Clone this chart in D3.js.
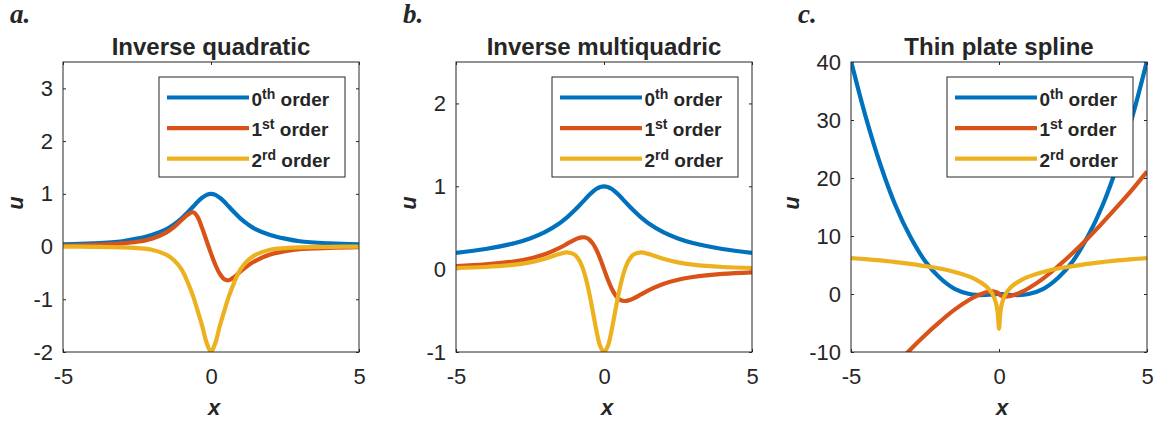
<!DOCTYPE html>
<html>
<head>
<meta charset="utf-8">
<script src="https://cdn.jsdelivr.net/npm/d3@7"></script>
<style>
body { margin: 0; background: #fff; }
svg text { font-family: "Liberation Sans", Arial, Helvetica, sans-serif; fill: #262626; }
</style>
</head>
<body>
<svg width="1156" height="426"></svg>
<script>
// ---- data ----
var panelLetters = ["a.", "b.", "c."];
var panelTitles = ["Inverse quadratic", "Inverse multiquadric", "Thin plate spline"];
var orderNums = ["0", "1", "2"];
var orderSups = ["th", "st", "rd"];
var xTicks = [-5, 0, 5];

var quadYTicks = [-2, -1, 0, 1, 2, 3];
var quadYDomain = [-2, 3.5];
var quadX = [-5, -4, -3, -2.5, -2, -1.5, -1.25, -1, -0.8, -0.6, -0.45, -0.3, -0.15, 0, 0.15, 0.3, 0.45, 0.6, 0.8, 1, 1.25, 1.5, 2, 2.5, 3, 4, 5];
var quadU0 = [0.04, 0.06, 0.1, 0.15, 0.22, 0.33, 0.42, 0.53, 0.64, 0.76, 0.85, 0.925, 0.98, 1, 0.98, 0.925, 0.85, 0.76, 0.64, 0.53, 0.42, 0.33, 0.22, 0.15, 0.1, 0.06, 0.04];
var quadU1 = [0.015, 0.03, 0.06, 0.09, 0.15, 0.27, 0.37, 0.5, 0.6, 0.65, 0.56, 0.35, 0.11, -0.13, -0.35, -0.52, -0.62, -0.64, -0.57, -0.47, -0.36, -0.27, -0.15, -0.09, -0.05, -0.025, -0.012];
var quadU2 = [0, -0.005, -0.015, -0.03, -0.06, -0.16, -0.26, -0.43, -0.66, -0.95, -1.22, -1.5, -1.82, -2, -1.82, -1.5, -1.22, -0.95, -0.66, -0.43, -0.26, -0.16, -0.06, -0.03, -0.015, -0.005, 0];

var multiYTicks = [-1, 0, 1, 2];
var multiYDomain = [-1, 2.5];
var multiX = [-5, -4, -3, -2.5, -2, -1.5, -1.25, -1, -0.875, -0.75, -0.625, -0.5, -0.375, -0.25, -0.125, 0, 0.125, 0.25, 0.375, 0.5, 0.625, 0.75, 0.875, 1, 1.25, 1.5, 2, 2.5, 3, 4, 5];
var multiU0 = [0.196, 0.243, 0.316, 0.371, 0.447, 0.555, 0.625, 0.707, 0.753, 0.8, 0.848, 0.894, 0.936, 0.97, 0.992, 1, 0.992, 0.97, 0.936, 0.894, 0.848, 0.8, 0.753, 0.707, 0.625, 0.555, 0.447, 0.371, 0.316, 0.243, 0.196];
var multiU1 = [0.038, 0.057, 0.095, 0.128, 0.179, 0.256, 0.305, 0.354, 0.373, 0.384, 0.381, 0.358, 0.308, 0.228, 0.122, 0, -0.122, -0.228, -0.308, -0.358, -0.381, -0.384, -0.373, -0.354, -0.305, -0.256, -0.179, -0.128, -0.095, -0.057, -0.038];
var multiU2 = [0.014, 0.026, 0.054, 0.081, 0.125, 0.184, 0.202, 0.177, 0.128, 0.041, -0.096, -0.286, -0.517, -0.752, -0.932, -1, -0.932, -0.752, -0.517, -0.286, -0.096, 0.041, 0.128, 0.177, 0.202, 0.184, 0.125, 0.081, 0.054, 0.026, 0.014];

var tpsYTicks = [-10, 0, 10, 20, 30, 40];
var tpsYDomain = [-10, 40];
var tpsX = [-5, -4.5, -4, -3.5, -3, -2.5, -2, -1.5, -1, -0.75, -0.5, -0.35, -0.22, -0.1, -0.04, -0.015, 0, 0.015, 0.04, 0.1, 0.22, 0.35, 0.5, 0.75, 1, 1.5, 2, 2.5, 3, 3.5, 4, 4.5, 5];
var tpsU0 = [40.2, 30.5, 22.2, 15.3, 9.9, 5.7, 2.8, 0.9, 0, -0.16, -0.17, -0.13, -0.07, -0.02, 0, 0, 0, 0, 0, -0.02, -0.07, -0.13, -0.17, -0.16, 0, 0.9, 2.8, 5.7, 9.9, 15.3, 22.2, 30.5, 40.2];
var tpsU1 = [-21.1, -18.0, -15.1, -12.3, -9.6, -7.1, -4.8, -2.7, -1, -0.32, 0.19, 0.38, 0.45, 0.36, 0.22, 0.11, 0, -0.11, -0.22, -0.36, -0.45, -0.38, -0.19, 0.32, 1, 2.7, 4.8, 7.1, 9.6, 12.3, 15.1, 18.0, 21.1];
var tpsU2 = [6.2, 6.0, 5.8, 5.5, 5.2, 4.8, 4.4, 3.8, 3, 2.4, 1.6, 0.9, 0, -1.6, -3.4, -5.4, -6, -5.4, -3.4, -1.6, 0, 0.9, 1.6, 2.4, 3, 3.8, 4.4, 4.8, 5.2, 5.5, 5.8, 6.0, 6.2];

// ---- layout ----
var colors = ["#0072BD", "#D95319", "#EDB120"];
var panelLefts = [63, 456, 851];
var plotW = 296, plotTop = 62, plotBottom = 352;
var axisColor = "#262626";

var svg = d3.select("svg");

var panels = [
    {yDomain: quadYDomain, yTicks: quadYTicks, x: quadX, u: [quadU0, quadU1, quadU2]},
    {yDomain: multiYDomain, yTicks: multiYTicks, x: multiX, u: [multiU0, multiU1, multiU2]},
    {yDomain: tpsYDomain, yTicks: tpsYTicks, x: tpsX, u: [tpsU0, tpsU1, tpsU2]}
];

panels.forEach(function (p, i) {
    drawPanel(p, i);
});

function plainNum(d) {
    return String(d);
}

function styleAxis(g) {
    g.select(".domain").remove();
    g.selectAll("line").attr("stroke", axisColor);
    g.selectAll("text")
        .attr("font-family", null)
        .attr("font-size", 22)
        .attr("fill", axisColor);
}

function drawPanel(p, i) {
    var left = panelLefts[i];
    var x = d3.scaleLinear().domain([-5, 5]).range([left, left + plotW]);
    var y = d3.scaleLinear().domain(p.yDomain).range([plotBottom, plotTop]);
    var g = svg.append("g").attr("class", "panel");

    g.append("clipPath")
        .attr("id", "clip" + i)
        .append("rect")
        .attr("x", left)
        .attr("y", plotTop)
        .attr("width", plotW)
        .attr("height", plotBottom - plotTop);

    // axes with inward ticks on all four sides
    g.append("g")
        .attr("transform", "translate(0," + plotBottom + ")")
        .call(d3.axisBottom(x).tickValues(xTicks).tickFormat(plainNum).tickSizeInner(-3).tickSizeOuter(0).tickPadding(16))
        .call(styleAxis);
    g.append("g")
        .attr("transform", "translate(0," + plotTop + ")")
        .call(d3.axisTop(x).tickValues(xTicks).tickSizeInner(-3).tickSizeOuter(0).tickFormat(""))
        .call(styleAxis);
    var yAxis = g.append("g")
        .attr("transform", "translate(" + left + ",0)")
        .call(d3.axisLeft(y).tickValues(p.yTicks).tickFormat(plainNum).tickSizeInner(-3).tickSizeOuter(0).tickPadding(10))
        .call(styleAxis);
    g.append("g")
        .attr("transform", "translate(" + (left + plotW) + ",0)")
        .call(d3.axisRight(y).tickValues(p.yTicks).tickSizeInner(-3).tickSizeOuter(0).tickFormat(""))
        .call(styleAxis);

    // curves
    var line = d3.line()
        .x(function (d) { return x(d[0]); })
        .y(function (d) { return y(d[1]); })
        .curve(d3.curveCatmullRom.alpha(0.5));

    g.append("g")
        .attr("clip-path", "url(#clip" + i + ")")
        .selectAll("path")
        .data(p.u)
        .enter().append("path")
        .attr("d", function (vals) {
            return line(vals.map(function (v, k) { return [p.x[k], v]; }));
        })
        .attr("fill", "none")
        .attr("stroke", function (d, k) { return colors[k]; })
        .attr("stroke-width", 4.2)
        .attr("stroke-linejoin", "round");

    // box
    g.append("rect")
        .attr("x", left)
        .attr("y", plotTop)
        .attr("width", plotW)
        .attr("height", plotBottom - plotTop)
        .attr("fill", "none")
        .attr("stroke", axisColor)
        .attr("stroke-width", 1);

    // title
    g.append("text")
        .attr("x", left + plotW / 2)
        .attr("y", plotTop - 7)
        .attr("text-anchor", "middle")
        .attr("font-size", 24)
        .attr("font-weight", "bold")
        .attr("fill", "#000")
        .text(panelTitles[i]);

    // panel letter
    g.append("text")
        .attr("x", left - 53)
        .attr("y", 23)
        .style("font-family", '"Liberation Serif", "Times New Roman", serif')
        .attr("font-size", 27)
        .attr("font-weight", "bold")
        .attr("font-style", "italic")
        .attr("fill", "#000")
        .text(panelLetters[i]);

    // axis labels
    g.append("text")
        .attr("x", left + plotW / 2 + 3)
        .attr("y", 415)
        .attr("text-anchor", "middle")
        .attr("font-size", 22)
        .attr("font-weight", "bold")
        .attr("font-style", "italic")
        .text("x");

    var labelLeft = d3.min(yAxis.selectAll("text").nodes(), function (n) {
        return n.getBBox().x;
    });
    var ux = left + labelLeft - 10;
    g.append("text")
        .attr("transform", "translate(" + ux + "," + ((plotTop + plotBottom) / 2 - 4) + ") rotate(-90)")
        .attr("text-anchor", "middle")
        .attr("font-size", 22)
        .attr("font-weight", "bold")
        .attr("font-style", "italic")
        .text("u");

    // legend
    var legW = 186, legH = 100;
    var leg = g.append("g")
        .attr("transform", "translate(" + (left + plotW - 14 - legW) + "," + (plotTop + 15) + ")");
    leg.append("rect")
        .attr("width", legW)
        .attr("height", legH)
        .attr("fill", "#fff")
        .attr("stroke", axisColor)
        .attr("stroke-width", 1);
    var rows = leg.selectAll("g.row")
        .data(orderNums)
        .enter().append("g")
        .attr("class", "row")
        .attr("transform", function (d, k) { return "translate(0," + (20.5 + k * 30.6) + ")"; });
    rows.append("line")
        .attr("x1", 8)
        .attr("x2", 90)
        .attr("stroke", function (d, k) { return colors[k]; })
        .attr("stroke-width", 4.2);
    var t = rows.append("text")
        .attr("x", 92.5)
        .attr("y", 8)
        .attr("font-size", 19)
        .attr("font-weight", "bold")
        .attr("fill", "#000");
    t.append("tspan").text(function (d) { return d; });
    t.append("tspan")
        .attr("font-size", 14)
        .attr("dy", -7)
        .text(function (d, k) { return orderSups[k]; });
    t.append("tspan")
        .attr("dy", 7)
        .text(" order");
}
</script>
</body>
</html>
